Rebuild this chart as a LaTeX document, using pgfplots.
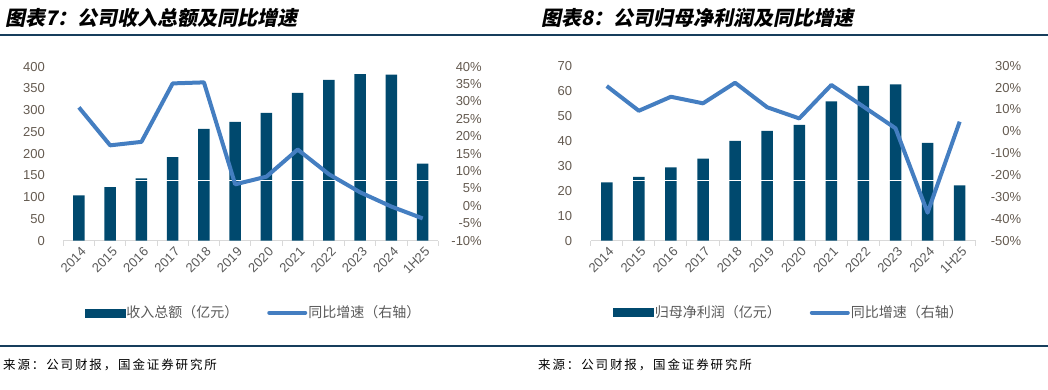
\documentclass[border=0pt]{standalone}
\usepackage{fontspec}
\usepackage{pgfplots}
\pgfplotsset{compat=1.18}
\setmainfont{Liberation Sans}
\newfontfamily\cjk{Noto Sans CJK SC}
\newfontfamily\cjkt{Noto Sans CJK SC}[FakeSlant=0.2]
\newfontfamily\cjks{Noto Sans CJK SC}[LetterSpace=15]
\definecolor{barblue}{RGB}{0,73,110}
\definecolor{lineblue}{RGB}{68,126,193}
\definecolor{ticktext}{RGB}{100,90,80}
\definecolor{xtext}{RGB}{89,89,89}
\definecolor{rulec}{RGB}{23,62,92}
\definecolor{axgray}{RGB}{217,217,217}

\pgfplotsset{
  base/.style={scale only axis, xmin=-0.5, xmax=11.5, anchor=south west,
    /pgf/number format/assume math mode=true,
    tick label style={font=\fontsize{13}{15}\selectfont},
    clip=false},
  barax/.style={base, ybar, bar width=11.5pt,
    axis x line*=bottom, axis y line*=left,
    y axis line style={draw=none}, ytick style={draw=none},
    x axis line style={axgray, line width=1pt},
    xtick={-0.5,0.5,...,11.5}, x tick label as interval,
    xticklabels={2014,2015,2016,2017,2018,2019,2020,2021,2022,2023,2024,1H25},
    xtick style={draw=axgray, line width=1pt}, tick align=outside, major tick length=5pt,
    xticklabel style={rotate=45, anchor=east, text=xtext, xshift=4pt, yshift=-6pt},
    yticklabel style={text=ticktext, xshift=-10pt}},
  lineax/.style={base, axis y line*=right, axis x line=none,
    y axis line style={draw=none}, ytick style={draw=none},
    yticklabel={\pgfmathprintnumber{\tick}\%},
    yticklabel style={text=ticktext, anchor=east},
    legend columns=2,
    legend style={anchor=center, draw=none, fill=none,
      font=\cjk\fontsize{14}{16}\selectfont, text=xtext,
      /tikz/every even column/.append style={column sep=28pt},
      nodes={inner sep=1pt}}},
  lineplot/.style={lineblue, line width=4pt, line join=round, mark=none,
    legend image code/.code={\draw[lineblue, line width=4pt, line cap=round] (2pt,0pt) -- (38pt,0pt);}},
  barlegend/.style={legend image code/.code={\fill[barblue] (0pt,-4pt) rectangle (40pt,4pt);}}
}

\begin{document}
\begin{tikzpicture}[x=1pt,y=1pt]
\useasboundingbox (0,0) rectangle (1048,389);

% titles and rules
\node[anchor=west, inner sep=0] at (5,371) {\cjkt\bfseries\fontsize{20}{24}\selectfont 图表7：公司收入总额及同比增速};
\node[anchor=west, inner sep=0] at (541,371) {\cjkt\bfseries\fontsize{20}{24}\selectfont 图表8：公司归母净利润及同比增速};
\draw[rulec, line width=1.5pt] (0,354) -- (1048,354);
\draw[rulec, line width=1.5pt] (0,43) -- (1048,43);
\node[anchor=west, inner sep=0] at (3,24) {\cjks\fontsize{12.5}{15}\selectfont 来源：公司财报，国金证券研究所};
\node[anchor=west, inner sep=0] at (538,24) {\cjks\fontsize{12.5}{15}\selectfont 来源：公司财报，国金证券研究所};

% ---------- left chart ----------
\begin{axis}[barax, at={(63.3pt,148.3pt)}, width=375pt, height=174pt,
  ymin=0, ymax=400, ytick={0,50,...,400}]
\addplot[fill=barblue, draw=none] coordinates {
 (0,104) (1,123) (2,143) (3,192) (4,257) (5,273) (6,294) (7,340) (8,370) (9,383) (10,382) (11,177)};
\draw[white, line width=0.8pt] (axis cs:-0.5,138) -- (axis cs:11.5,138);
\end{axis}
\begin{axis}[lineax, at={(63.3pt,148.3pt)}, width=375pt, height=174pt,
  ymin=-10, ymax=40, ytick={-10,-5,...,40},
  yticklabel style={xshift=47pt},
  legend style={at={(0.506,-0.414)}}]
\addlegendimage{barlegend}
\addlegendentry{收入总额（亿元）}
\addplot[lineplot] coordinates {
 (0,28.3) (1,17.4) (2,18.4) (3,35.2) (4,35.5) (5,6.2) (6,8.4) (7,16.2) (8,9.1) (9,3.9) (10,-0.2) (11,-3.6)};
\addlegendentry{同比增速（右轴）}
\end{axis}

% ---------- right chart ----------
\begin{axis}[barax, at={(590.7pt,148.3pt)}, width=385pt, height=175pt,
  ymin=0, ymax=70, ytick={0,10,...,70}]
\addplot[fill=barblue, draw=none] coordinates {
 (0,23.3) (1,25.5) (2,29.3) (3,32.8) (4,39.9) (5,43.9) (6,46.3) (7,55.7) (8,61.9) (9,62.5) (10,39.1) (11,22.1)};
\draw[white, line width=0.8pt] (axis cs:-0.5,24) -- (axis cs:11.5,24);
\end{axis}
\begin{axis}[lineax, at={(590.7pt,148.3pt)}, width=385pt, height=175pt,
  ymin=-50, ymax=30, ytick={-50,-40,...,30},
  yticklabel style={xshift=49pt},
  legend style={at={(0.514,-0.411)}}]
\addlegendimage{barlegend}
\addlegendentry{归母净利润（亿元）}
\addplot[lineplot] coordinates {
 (0,20.7) (1,9.4) (2,15.8) (3,12.8) (4,22.2) (5,11.0) (6,5.9) (7,21.2) (8,11.3) (9,1.4) (10,-37.2) (11,4.4)};
\addlegendentry{同比增速（右轴）}
\end{axis}
\end{tikzpicture}
\end{document}
